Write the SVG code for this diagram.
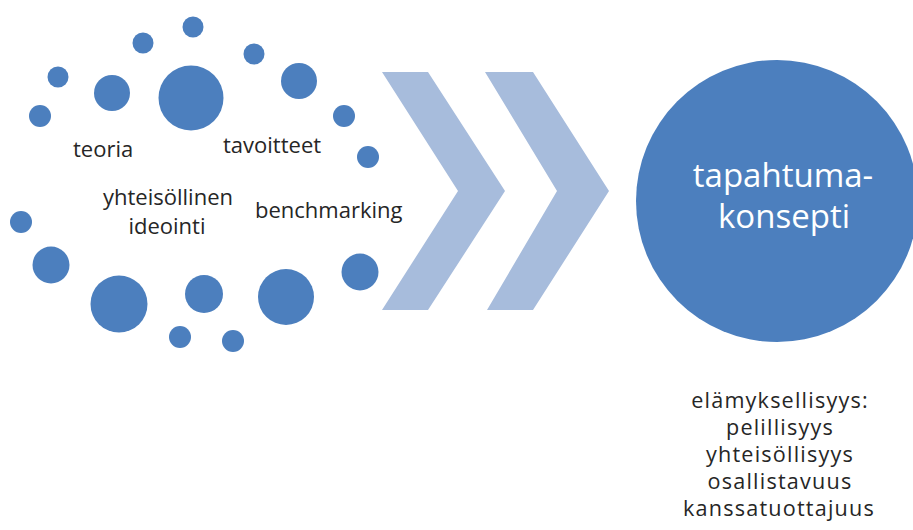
<svg xmlns="http://www.w3.org/2000/svg" width="913" height="530" viewBox="0 0 913 530">
  <style>
    .dot { fill: #4C7FBE; }
    .chev { fill: #A7BCDC; }
    .lbl { font-family: "Open Sans", "Liberation Sans", sans-serif; font-size: 22px; fill: #262626; }
    .big { font-family: "Open Sans", "Liberation Sans", sans-serif; font-size: 33px; fill: #ffffff; text-anchor: middle; }
    .note { font-family: "Open Sans", "Liberation Sans", sans-serif; font-size: 21.6px; letter-spacing: 1.2px; fill: #262626; text-anchor: middle; }
  </style>
  <rect width="913" height="530" fill="#ffffff"/>

  <!-- cloud of input dots -->
  <g id="dots">
    <circle class="dot" cx="58" cy="77" r="10.5"/>
    <circle class="dot" cx="40" cy="116" r="11"/>
    <circle class="dot" cx="112" cy="93" r="18"/>
    <circle class="dot" cx="191" cy="98" r="32.5"/>
    <circle class="dot" cx="143" cy="43" r="10.5"/>
    <circle class="dot" cx="193" cy="27" r="10.5"/>
    <circle class="dot" cx="254" cy="54" r="10.5"/>
    <circle class="dot" cx="299" cy="81" r="18"/>
    <circle class="dot" cx="344" cy="116" r="11"/>
    <circle class="dot" cx="368" cy="157" r="11"/>
    <circle class="dot" cx="21" cy="222" r="11"/>
    <circle class="dot" cx="51" cy="265" r="18.5"/>
    <circle class="dot" cx="119" cy="304" r="28.5"/>
    <circle class="dot" cx="204" cy="294" r="19"/>
    <circle class="dot" cx="180" cy="337" r="11"/>
    <circle class="dot" cx="233" cy="341" r="11"/>
    <circle class="dot" cx="286" cy="297" r="28"/>
    <circle class="dot" cx="360" cy="272" r="18.5"/>
  </g>

  <!-- input labels -->
  <g id="inputs">
    <text class="lbl" x="73" y="157">teoria</text>
    <text class="lbl" x="223" y="153">tavoitteet</text>
    <text class="lbl" x="168" y="205" text-anchor="middle">yhteisöllinen</text>
    <text class="lbl" x="167" y="234" text-anchor="middle">ideointi</text>
    <text class="lbl" x="255" y="218">benchmarking</text>
  </g>

  <!-- process chevrons -->
  <g id="connectors">
    <polygon class="chev" points="382,72 428,72 505,191 428,310 382,310 458,191"/>
    <polygon class="chev" points="485,72 533,72 609,191 533,310 487,310 557,191"/>
  </g>

  <!-- result -->
  <g id="concept">
    <circle class="dot" cx="777" cy="201" r="141"/>
    <text class="big" x="783" y="187">tapahtuma-</text>
    <text class="big" x="784" y="228">konsepti</text>
  </g>

  <g id="qualities">
    <text class="note" x="780" y="408">elämyksellisyys:</text>
    <text class="note" x="780" y="435">pelillisyys</text>
    <text class="note" x="780" y="462">yhteisöllisyys</text>
    <text class="note" x="780" y="489">osallistavuus</text>
    <text class="note" x="779" y="516">kanssatuottajuus</text>
  </g>
</svg>
